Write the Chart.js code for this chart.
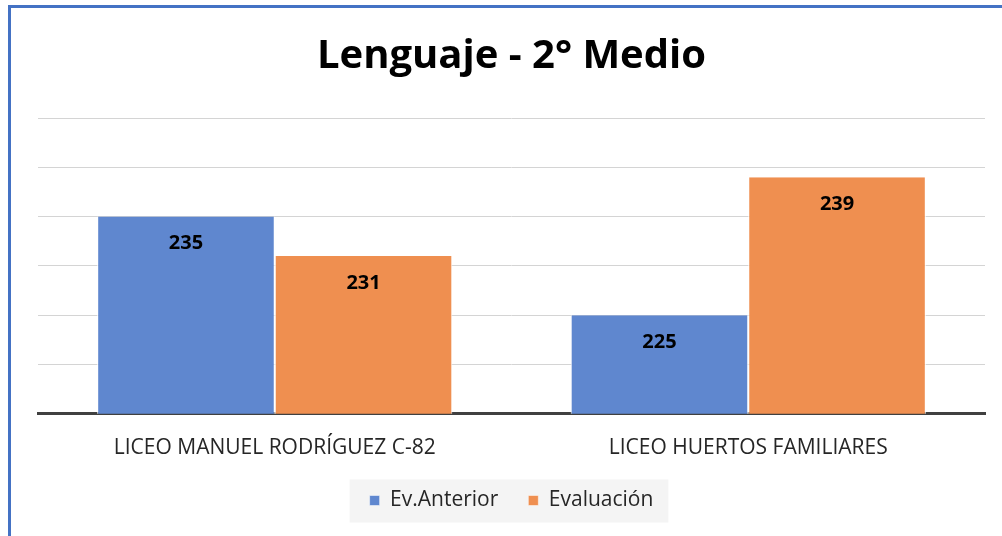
<!DOCTYPE html>
<html>
<head>
<meta charset="utf-8">
<script src="https://cdn.jsdelivr.net/npm/chart.js@4.4.1/dist/chart.umd.min.js"></script>
<style>
    html, body { margin: 0; padding: 0; background: #fff; overflow: hidden; }
    #frame {
        position: absolute; left: 8px; top: 5px; right: -10px; bottom: -10px;
        border-top: 3px solid #4472C4; border-left: 3px solid #4472C4;
    }
    #wrap { position: absolute; left: 0; top: 0; width: 1002px; height: 536px; }
</style>
</head>
<body>
<div id="frame"></div>
<div id="wrap"><canvas id="barChart" width="1002" height="536"></canvas></div>
<script>
// Data
const schools = ['LICEO MANUEL RODRÍGUEZ C-82', 'LICEO HUERTOS FAMILIARES'];
const seriesNames = ['Ev.Anterior', 'Evaluación'];
const prevScores = [235, 225];
const currentScores = [231, 239];
const yMin = 215;
const yMax = 245;
const yStep = 5;

const FONT = "'Open Sans', sans-serif";

// Values drawn inside each bar, near its top
const barValueLabels = {
    id: 'barValueLabels',
    afterDatasetsDraw(chart) {
        const ctx = chart.ctx;
        ctx.save();
        ctx.font = "bold 20px " + FONT;
        ctx.fillStyle = '#000';
        ctx.textAlign = 'center';
        ctx.textBaseline = 'middle';
        chart.data.datasets.forEach((ds, i) => {
            chart.getDatasetMeta(i).data.forEach((bar, j) => {
                ctx.fillText(ds.data[j], bar.x, bar.y + 27);
            });
        });
        ctx.restore();
    }
};

// Light grey box behind the legend
const legendBox = {
    id: 'legendBox',
    beforeDraw(chart) {
        const lg = chart.legend;
        if (!lg || !lg.legendHitBoxes.length) return;
        const boxes = lg.legendHitBoxes;
        const left = Math.min(...boxes.map(b => b.left)) - 20;
        const right = Math.max(...boxes.map(b => b.left + b.width)) + 15;
        const mid = boxes[0].top + boxes[0].height / 2;
        const ctx = chart.ctx;
        ctx.save();
        ctx.fillStyle = '#f4f4f4';
        ctx.fillRect(left, mid - 21, right - left, 43);
        ctx.restore();
    }
};

const barCtx = document.getElementById('barChart').getContext('2d');
const barChart = new Chart(barCtx, {
    type: 'bar',
    data: {
        labels: schools,
        datasets: [{
            label: seriesNames[0],
            data: prevScores,
            backgroundColor: '#5F87CF',
            borderColor: '#ffffff',
            borderWidth: { left: 1, right: 1 }
        }, {
            label: seriesNames[1],
            data: currentScores,
            backgroundColor: '#EF8F50',
            borderColor: '#ffffff',
            borderWidth: { left: 1, right: 1 }
        }]
    },
    options: {
        responsive: false,
        animation: false,
        layout: {
            padding: { top: 0, right: 17, bottom: 15, left: 38 }
        },
        datasets: {
            bar: {
                categoryPercentage: 0.75,
                barPercentage: 1.0,
                borderSkipped: false
            }
        },
        scales: {
            x: {
                grid: { display: false, drawTicks: false },
                border: { display: true, color: '#404040', width: 3 },
                ticks: {
                    padding: 0,
                    color: '#262626',
                    font: { family: FONT, size: 21, lineHeight: 1.1 },
                    // empty first line pushes the name down towards the legend
                    callback: (value, i) => ['', schools[i]]
                }
            },
            y: {
                min: yMin,
                max: yMax,
                ticks: { display: false, stepSize: yStep },
                border: { display: false },
                grid: {
                    drawTicks: false,
                    color: '#d4d4d4',
                    lineWidth: 1
                }
            }
        },
        plugins: {
            title: {
                display: true,
                text: 'Lenguaje - 2° Medio',
                color: '#000',
                font: { family: FONT, size: 40, weight: 'bold', lineHeight: 1.2 },
                padding: { top: 33, bottom: 37 }
            },
            legend: {
                position: 'bottom',
                labels: {
                    color: '#262626',
                    font: { family: FONT, size: 21 },
                    boxWidth: 10,
                    boxHeight: 10,
                    padding: 30
                }
            },
            tooltip: { enabled: false }
        }
    },
    plugins: [legendBox, barValueLabels]
});
</script>
</body>
</html>
